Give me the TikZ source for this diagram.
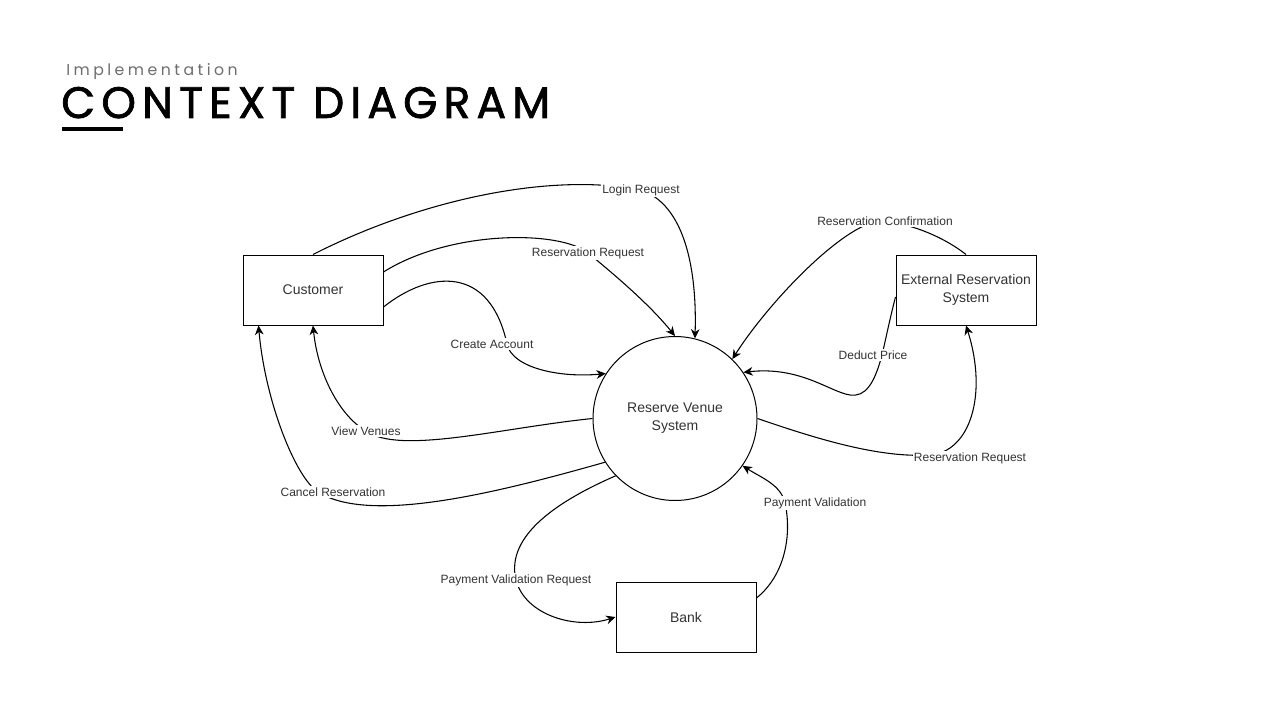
\documentclass[tikz,border=0pt]{standalone}
\usepackage{fontspec}
\setmainfont{Liberation Sans}
\newfontfamily\titlefont[LetterSpace=14, FakeBold=1.6]{Poppins}
\newfontfamily\subtitlefont[LetterSpace=22]{Poppins}
\usetikzlibrary{arrows.meta,positioning,shapes.geometric}
\definecolor{labeltext}{RGB}{51,51,51}
\definecolor{subgray}{RGB}{110,110,110}

\begin{document}
\begin{tikzpicture}[
    x=0.75pt, y=-0.75pt,
    entity/.style={rectangle, draw, line width=0.75pt, minimum width=105pt,
                   minimum height=52.5pt, align=center, text=labeltext,
                   font=\fontsize{10.5}{13.5}\selectfont},
    process/.style={circle, draw, line width=0.75pt, minimum size=123pt,
                    align=center, text=labeltext, font=\fontsize{10.5}{13.5}\selectfont},
    flowlabel/.style={fill=white, inner sep=1pt, text=labeltext,
                      font=\fontsize{9}{10}\selectfont},
    arr/.style={-{Stealth[length=7pt, width=6.5pt, inset=2.2pt]}, line width=0.8pt},
]
    \fill[white] (0,0) rectangle (1280,720);
    \useasboundingbox (0,0) rectangle (1280,720);

    \node[anchor=base west, inner sep=0, text=subgray,
          font=\subtitlefont\fontsize{11.8}{14}\selectfont] (subtitle) at (66,75.5) {Implementation};
    \node[anchor=base west, inner sep=0,
          font=\titlefont\fontsize{33}{40}\selectfont] (title) at (61,118) {CONTEXT DIAGRAM};
    \fill (62,127) rectangle (123,131);

    \node[entity] (cust) at (313,290) {Customer};
    \node[entity] (ers) at (966,290) {External Reservation\\System};
    \node[entity] (bank) at (686,617) {Bank};
    \node[process] (rvs) at (675,418.5) {Reserve Venue\\System};

    \draw[arr] (cust.north) .. controls (420,200) and (550,172) .. (641,190)
        node[flowlabel] (lLogin) {Login Request}
        .. controls (685,205) and (697,270) .. (rvs.76);
    \draw[arr] ([yshift=13.5pt]cust.east) .. controls (450,230) and (560,230) .. (588,253)
        node[flowlabel] (lResCust) {Reservation Request}
        .. controls (615,275) and (650,305) .. (rvs.90);
    \draw[arr] ([yshift=-12.75pt]cust.east) .. controls (430,270) and (490,265) .. (507,344)
        node[flowlabel, xshift=-11.25pt] (lAccount) {Create Account}
        .. controls (512,368) and (560,378) .. (rvs.147);
    \draw[arr] (rvs.180) .. controls (500,428) and (400,455) .. (366,431)
        node[flowlabel] (lVenues) {View Venues}
        .. controls (340,416) and (318,375) .. (cust.south);
    \draw[arr] (rvs.212) .. controls (500,492) and (370,525) .. (318,492)
        node[flowlabel, xshift=11.25pt] (lCancel) {Cancel Reservation}
        .. controls (295,477) and (265,400) .. ([xshift=12pt]cust.south west);
    \draw[arr] (rvs.224) .. controls (560,500) and (505,535) .. (516,580)
        node[flowlabel] (lPayReq) {Payment Validation Request}
        .. controls (525,615) and (575,630) .. (bank.west);
    \draw[arr] ([yshift=14.25pt]bank.east) .. controls (785,575) and (792,535) .. (785,503)
        node[flowlabel, xshift=22.5pt] (lPayVal) {Payment Validation}
        .. controls (781,485) and (762,478) .. (rvs.-35);
    \draw[arr] (rvs.0) .. controls (820,440) and (880,458) .. (930,455)
        node[flowlabel, xshift=30pt, yshift=-2.25pt] (lResExt) {Reservation Request}
        .. controls (970,452) and (988,395) .. (ers.south);
    \draw[arr] ([yshift=-5.25pt]ers.west) .. controls (890,318) and (886,338) .. (882,355)
        node[flowlabel, xshift=-6.75pt] (lDeduct) {Deduct Price}
        .. controls (874,385) and (865,397) .. (850,395)
        .. controls (830,392) and (800,366) .. (rvs.34);
    \draw[arr] (ers.north) .. controls (945,238) and (915,225) .. (885,221)
        node[flowlabel] (lConfirm) {Reservation Confirmation}
        .. controls (850,217) and (770,300) .. (rvs.46);
\end{tikzpicture}
\end{document}
